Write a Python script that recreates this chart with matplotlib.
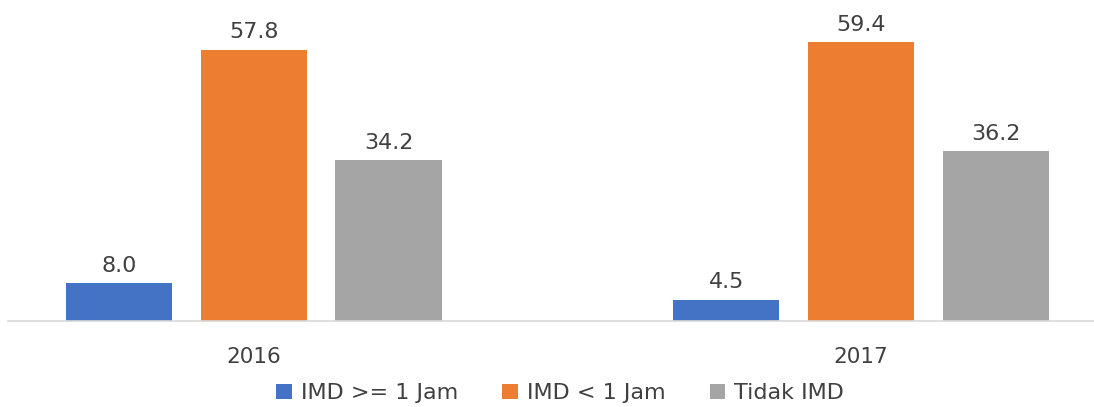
import numpy as np
import matplotlib.pyplot as plt

years = ['2016', '2017']
series = ['IMD >= 1 Jam', 'IMD < 1 Jam', 'Tidak IMD']
imd_lebih = [8.0, 4.5]
imd_kurang = [57.8, 59.4]
tidak_imd = [34.2, 36.2]
colors = ['#4472C4', '#ED7D31', '#A5A5A5']

plt.rcParams['font.family'] = ['DejaVu Sans']
text_color = '#404040'

fig = plt.figure(figsize=(10.94, 4.07), dpi=100)
ax = fig.add_axes([8 / 1094, 86 / 407, 1086 / 1094, 321 / 407])

x = np.arange(len(years))
width = 0.175
step = 0.222
handles = []
for i, (vals, name) in enumerate(zip([imd_lebih, imd_kurang, tidak_imd], series)):
    bars = ax.bar(x + (i - 1) * step, vals, width, color=colors[i], label=name)
    handles.append(bars)
    for b, v in zip(bars, vals):
        ax.text(b.get_x() + b.get_width() / 2, v + 1.6, f'{v:.1f}',
                ha='center', va='bottom', fontsize=16, color=text_color)

ax.set_xlim(-0.405, 1.384)
ax.set_ylim(0, 68.4)
ax.set_yticks([])
ax.set_xticks(x)
ax.set_xticklabels(years, fontsize=15.5, color=text_color)
ax.tick_params(axis='x', length=0, pad=19)
for side in ['top', 'right', 'left']:
    ax.spines[side].set_visible(False)
ax.spines['bottom'].set_color('#D9D9D9')
ax.spines['bottom'].set_linewidth(1.2)

fig.legend(handles=handles, labels=series, loc='lower center', ncol=3,
           bbox_to_anchor=(0.512, -0.04), frameon=False, fontsize=16,
           handlelength=0.7, handleheight=0.7, handletextpad=0.4,
           columnspacing=2.0, labelcolor=text_color)

fig.savefig('out.png', dpi=100)
